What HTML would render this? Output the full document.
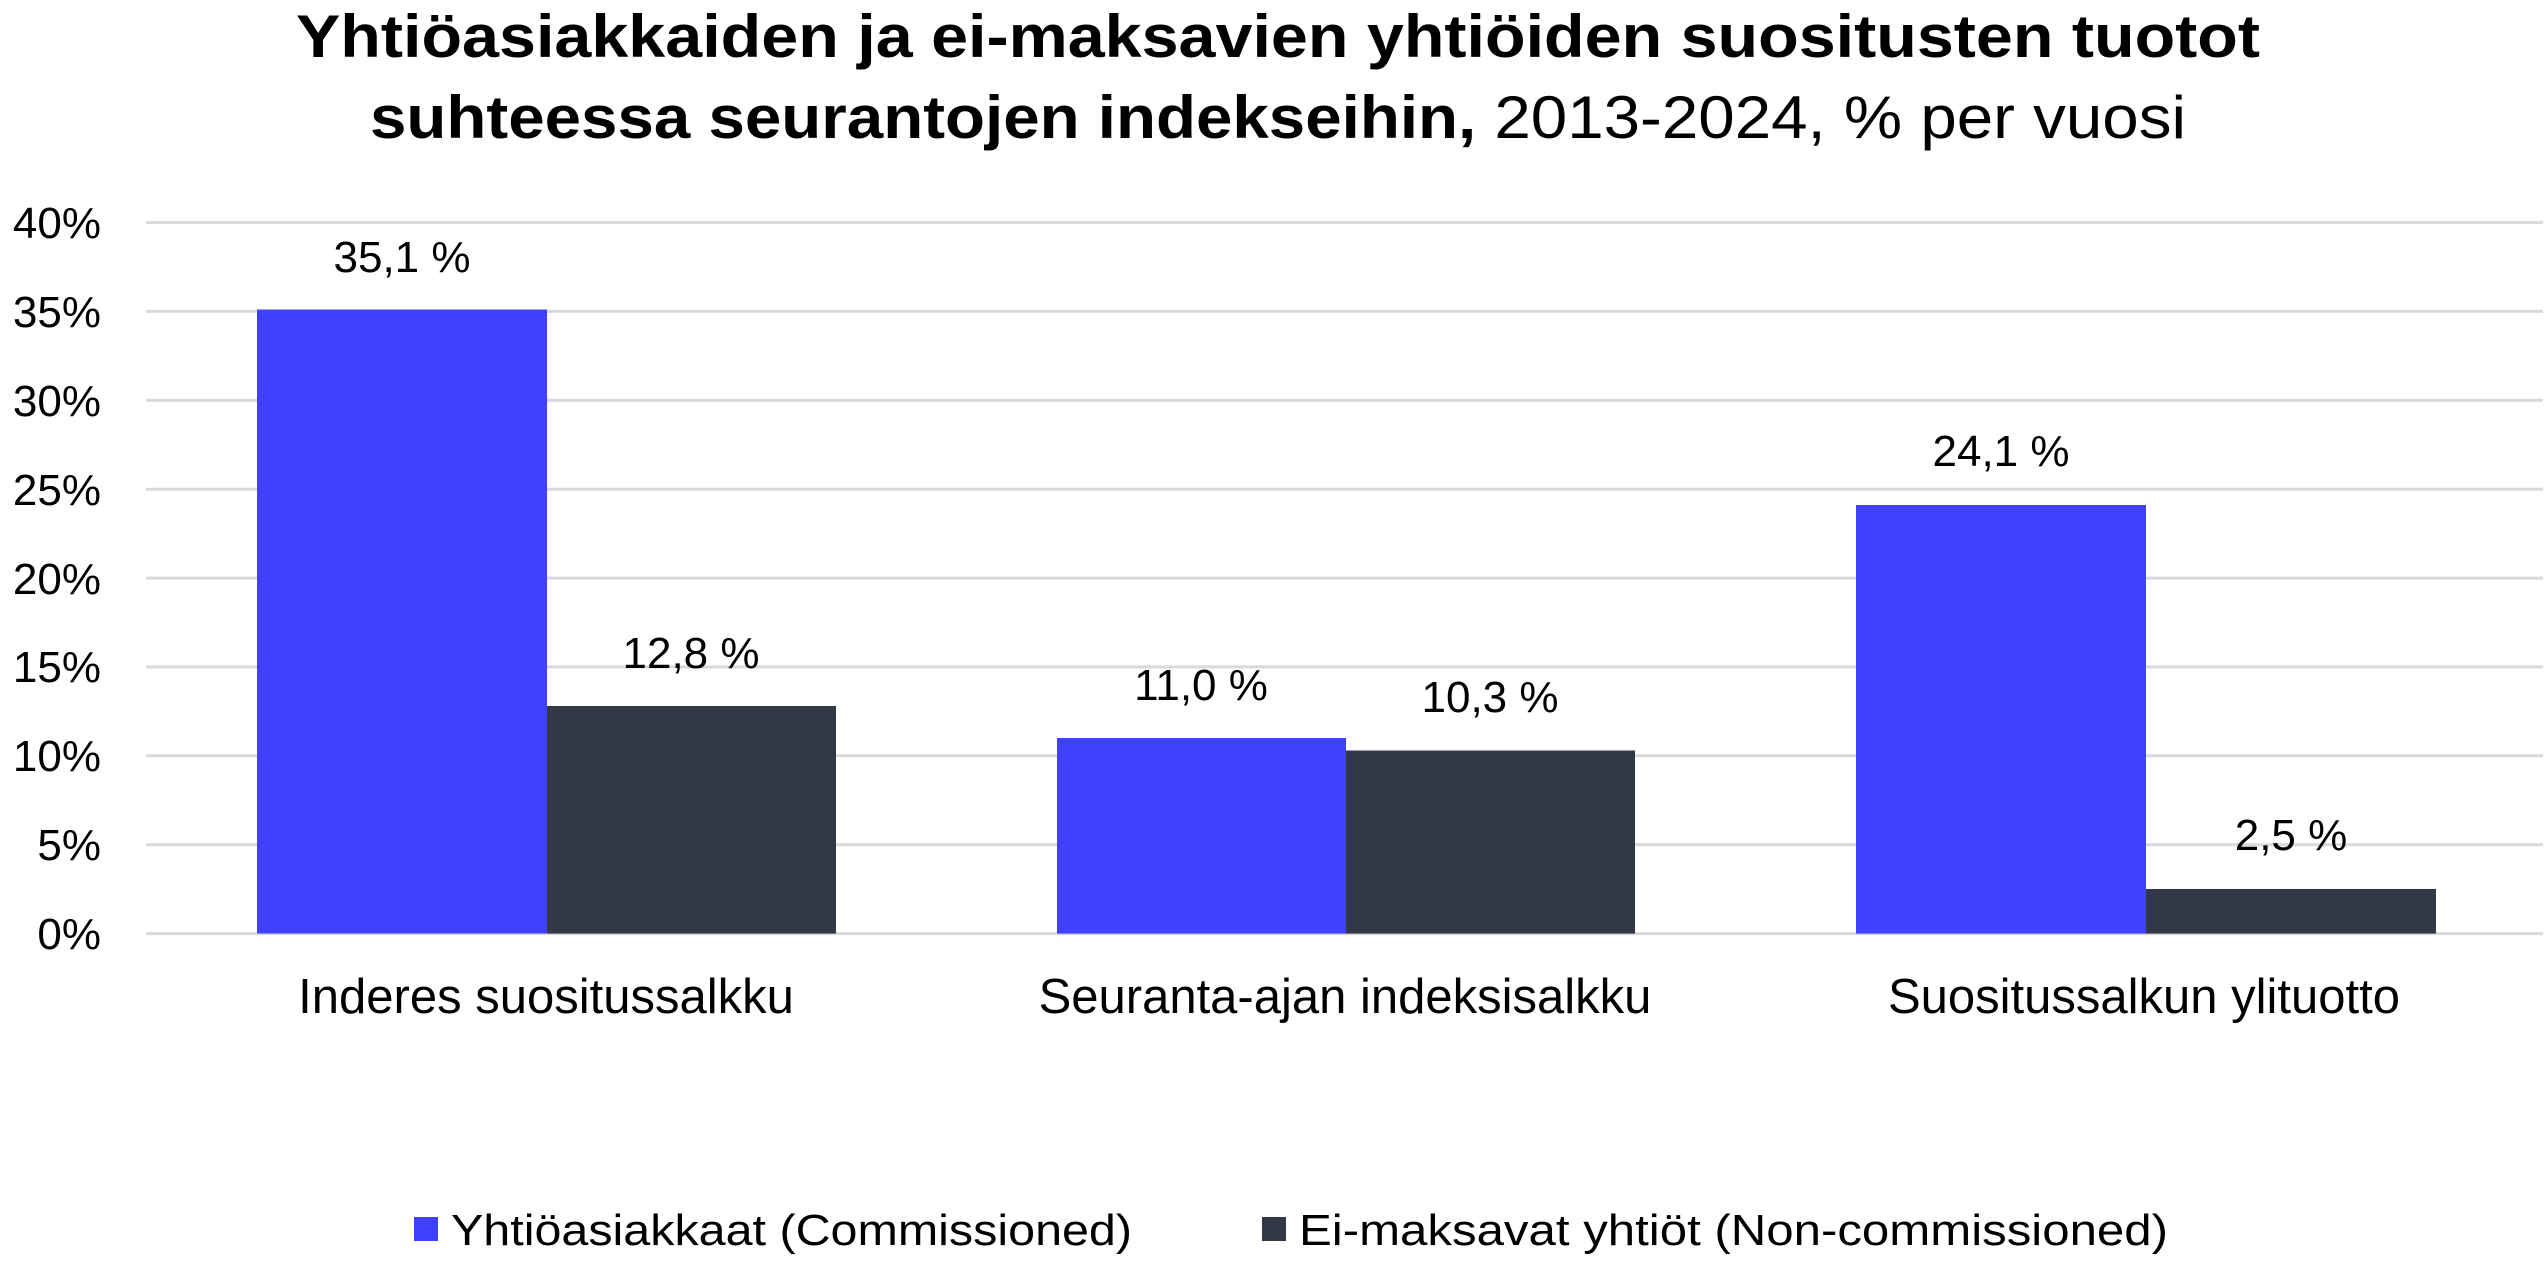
<!DOCTYPE html>
<html><head><meta charset="utf-8"><style>html,body{margin:0;padding:0;background:#fff}svg{display:block}</style></head>
<body>
<svg width="2546" height="1264" viewBox="0 0 2546 1264" xmlns="http://www.w3.org/2000/svg" font-family="Liberation Sans, Arial, sans-serif">
<rect width="2546" height="1264" fill="#fff"/>
<text x="1278" y="57" font-size="60" font-weight="bold" text-anchor="middle" textLength="1964" lengthAdjust="spacingAndGlyphs">Yhtiöasiakkaiden ja ei-maksavien yhtiöiden suositusten tuotot</text>
<text x="1278" y="138" font-size="60" text-anchor="middle" textLength="1816" lengthAdjust="spacingAndGlyphs"><tspan font-weight="bold">suhteessa seurantojen indekseihin,</tspan> 2013-2024, % per vuosi</text>
<g stroke="#d9d9d9" stroke-width="3">
<line x1="146" x2="2543" y1="222.5" y2="222.5"/>
<line x1="146" x2="2543" y1="311.4" y2="311.4"/>
<line x1="146" x2="2543" y1="400.3" y2="400.3"/>
<line x1="146" x2="2543" y1="489.2" y2="489.2"/>
<line x1="146" x2="2543" y1="578.1" y2="578.1"/>
<line x1="146" x2="2543" y1="666.9" y2="666.9"/>
<line x1="146" x2="2543" y1="755.8" y2="755.8"/>
<line x1="146" x2="2543" y1="844.7" y2="844.7"/>
<line x1="146" x2="2543" y1="933.6" y2="933.6"/>
</g>
<g font-size="44" text-anchor="end" fill="#000">
<text x="101" y="238">40%</text>
<text x="101" y="327">35%</text>
<text x="101" y="416">30%</text>
<text x="101" y="505">25%</text>
<text x="101" y="594">20%</text>
<text x="101" y="682">15%</text>
<text x="101" y="771">10%</text>
<text x="101" y="860">5%</text>
<text x="101" y="949">0%</text>
</g>
<g fill="#4040ff">
<rect x="257" y="309.5" width="290" height="624"/>
<rect x="1057" y="738" width="289" height="195.6"/>
<rect x="1856" y="505" width="290" height="428.6"/>
</g>
<g fill="#323846">
<rect x="547" y="706" width="289" height="227.6"/>
<rect x="1346" y="750.5" width="289" height="183.1"/>
<rect x="2146" y="889" width="290" height="44.6"/>
</g>
<g font-size="44" text-anchor="middle" fill="#000">
<text x="402" y="272">35,1 %</text>
<text x="691" y="668">12,8 %</text>
<text x="1201" y="700">11,0 %</text>
<text x="1490" y="712">10,3 %</text>
<text x="2001" y="466">24,1 %</text>
<text x="2291" y="850">2,5 %</text>
</g>
<g font-size="49" text-anchor="middle" fill="#000">
<text x="546" y="1013">Inderes suositussalkku</text>
<text x="1345" y="1013">Seuranta-ajan indeksisalkku</text>
<text x="2144" y="1013">Suositussalkun ylituotto</text>
</g>
<rect x="414" y="1217" width="24" height="24" fill="#4040ff"/>
<text x="451" y="1245" font-size="44" textLength="681" lengthAdjust="spacingAndGlyphs">Yhtiöasiakkaat (Commissioned)</text>
<rect x="1262" y="1217" width="24" height="24" fill="#323846"/>
<text x="1299" y="1245" font-size="44" textLength="869" lengthAdjust="spacingAndGlyphs">Ei-maksavat yhtiöt (Non-commissioned)</text>
</svg>
</body></html>
